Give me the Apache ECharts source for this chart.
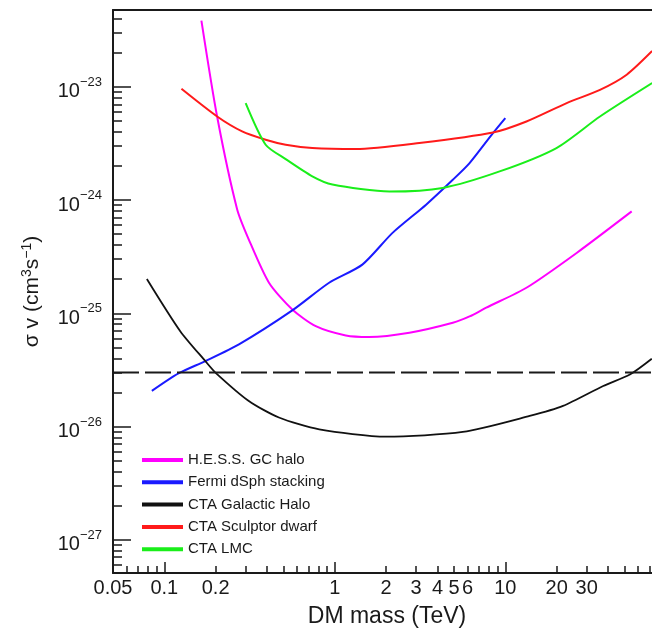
<!DOCTYPE html>
<html>
<head>
<meta charset="utf-8">
<script src="https://cdn.jsdelivr.net/npm/echarts@6/dist/echarts.min.js"></script>
<style>
  html, body { margin: 0; padding: 0; background: #fff; }
  #main { width: 652px; height: 633px; }
</style>
</head>
<body>
<div id="main"></div>
<script>
// values (mass in TeV, sigma v in cm^3 s^-1)
var hessMass = [0.165, 0.204, 0.267, 0.313, 0.411, 0.563, 0.773, 1.16, 1.59, 2.74, 4.92, 6.17, 7.73, 13.3, 26.2, 55.1];
var hessSigma = [3.85e-23, 5.47e-24, 8.35e-25, 4.48e-25, 1.86e-25, 1.08e-25, 7.69e-26, 6.37e-26, 6.18e-26, 6.73e-26, 8.24e-26, 9.37e-26, 1.12e-25, 1.68e-25, 3.41e-25, 7.94e-25];

var fermiMass = [0.0845, 0.121, 0.174, 0.274, 0.563, 0.926, 1.45, 2.18, 3.43, 4.92, 6.17, 8.46, 10.0];
var fermiSigma = [2.06e-26, 2.94e-26, 3.78e-26, 5.31e-26, 1.06e-25, 1.86e-25, 2.69e-25, 5.13e-25, 9.1e-25, 1.51e-24, 2.12e-24, 3.9e-24, 5.3e-24];

var haloMass = [0.079, 0.124, 0.174, 0.2, 0.313, 0.47, 0.81, 2.0, 5.63, 13.9, 21.8, 37.5, 53.8, 72.3];
var haloSigma = [2.01e-25, 6.95e-26, 3.78e-26, 2.98e-26, 1.68e-26, 1.20e-26, 9.44e-27, 8.14e-27, 8.95e-27, 1.24e-26, 1.52e-26, 2.28e-26, 2.88e-26, 3.97e-26];

var sculptorMass = [0.126, 0.204, 0.286, 0.393, 0.515, 0.738, 1.33, 3.13, 8.46, 13.3, 22.9, 35.9, 51.5, 72.6];
var sculptorSigma = [9.6e-24, 5.47e-24, 4.04e-24, 3.41e-24, 3.08e-24, 2.88e-24, 2.82e-24, 3.19e-24, 3.95e-24, 4.94e-24, 7.18e-24, 9.4e-24, 1.28e-23, 2.07e-23];

var lmcMass = [0.3, 0.393, 0.515, 0.738, 0.968, 2.09, 4.29, 9.26, 19.95, 35.9, 72.6];
var lmcSigma = [7.18e-24, 3.08e-24, 2.30e-24, 1.62e-24, 1.37e-24, 1.19e-24, 1.28e-24, 1.79e-24, 2.88e-24, 5.47e-24, 1.08e-23];

var refMass = [0.05, 100];
var refSigma = [3e-26, 3e-26];

// axes (the x axis is cut off at the right edge of the picture)
var xMin = 0.05, xMax = 72.5;
var yMin = 5.08e-28, yMax = 4.77e-23;
var xLabels = [0.05, 0.1, 0.2, 1, 2, 3, 4, 5, 6, 10, 20, 30];
var xMajor = [0.1, 1, 10];
var xMinor = [0.06, 0.07, 0.08, 0.09, 0.2, 0.3, 0.4, 0.5, 0.6, 0.7, 0.8, 0.9,
              2, 3, 4, 5, 6, 7, 8, 9, 20, 30, 40, 50, 60, 70];
var yDecades = [-27, -26, -25, -24, -23];
var yMinorMult = [2, 3, 4, 5, 6, 7, 8, 9];

var font = 'Liberation Sans, Arial, sans-serif';
var ink = '#1a1a1a';

function lg(v) { return Math.log10(v); }
function zip(a, b) { return a.map(function (v, i) { return [v, b[i]]; }); }

var yMinorLog = [];
[-28, -27, -26, -25, -24, -23].forEach(function (d) {
  yMinorMult.forEach(function (m) {
    var v = d + lg(m);
    if (v > lg(yMin) && v < lg(yMax)) yMinorLog.push(v);
  });
});

var chart = echarts.init(document.getElementById('main'));

var tickAxisX = function (vals, len, labels) {
  return {
    type: 'value', position: 'bottom', gridIndex: 0,
    min: lg(xMin), max: lg(xMax),
    axisLine: { show: false, onZero: false },
    splitLine: { show: false },
    axisTick: { show: true, inside: true, length: len, customValues: vals.map(lg),
                lineStyle: { color: ink, width: 1.5 } },
    axisLabel: labels ? {
      show: true, customValues: labels.map(lg), margin: 5,
      fontFamily: font, fontSize: 20, color: ink,
      formatter: function (v) {
        var t = labels.filter(function (l) { return Math.abs(lg(l) - v) < 1e-6; })[0];
        return String(t);
      }
    } : { show: false }
  };
};

var tickAxisY = function (vals, len, withLabels) {
  return {
    type: 'value', position: 'left', gridIndex: 0,
    min: lg(yMin), max: lg(yMax),
    axisLine: { show: false, onZero: false },
    splitLine: { show: false },
    axisTick: { show: true, inside: true, length: len, customValues: vals,
                lineStyle: { color: ink, width: 1.5 } },
    axisLabel: withLabels ? {
      show: true, customValues: yDecades, margin: 11,
      padding: [4, 0, 0, 0],
      formatter: function (v) { return '{b|10}{s|\u2212' + Math.round(-v) + '}'; },
      rich: {
        b: { fontFamily: font, fontSize: 20, lineHeight: 26, verticalAlign: 'bottom', color: ink },
        s: { fontFamily: font, fontSize: 13, lineHeight: 13, verticalAlign: 'top', color: ink }
      }
    } : { show: false }
  };
};

var lineSeries = function (name, mass, sigma, color, width) {
  return {
    name: name, type: 'line', xAxisIndex: 0, yAxisIndex: 0,
    data: zip(mass, sigma), symbol: 'none', smooth: 0.25,
    lineStyle: { color: color, width: width }, itemStyle: { color: color }
  };
};

var option = {
  animation: false,
  grid: { left: 113, right: 0, top: 10, bottom: 59 },
  legend: {
    orient: 'vertical', left: 142, top: 449, padding: 0, itemGap: 0.3,
    itemWidth: 41, itemHeight: 4, icon: 'rect',
    textStyle: { fontFamily: font, fontSize: 15, color: ink, lineHeight: 22 },
    data: ['H.E.S.S. GC halo', 'Fermi dSph stacking', 'CTA Galactic Halo', 'CTA Sculptor dwarf', 'CTA LMC']
  },
  xAxis: [
    {
      type: 'log', logBase: 10, min: xMin, max: xMax, position: 'bottom',
      axisLine: { show: true, onZero: false, lineStyle: { color: ink, width: 2 } },
      axisTick: { show: false }, axisLabel: { show: false },
      splitLine: { show: false },
      name: 'DM mass (TeV)', nameLocation: 'middle', nameGap: 32,
      nameTextStyle: { fontFamily: font, fontSize: 23, color: ink, padding: [0, 0, 0, 9] }
    },
    tickAxisX(xMajor, 11, xLabels),
    tickAxisX(xMinor, 7, null),
    {
      type: 'value', position: 'top', min: 0, max: 1,
      axisLine: { show: true, onZero: false, lineStyle: { color: ink, width: 2 } },
      axisTick: { show: false }, axisLabel: { show: false }, splitLine: { show: false }
    }
  ],
  yAxis: [
    {
      type: 'log', logBase: 10, min: yMin, max: yMax, position: 'left',
      axisLine: { show: true, onZero: false, lineStyle: { color: ink, width: 2 } },
      axisTick: { show: false }, axisLabel: { show: false },
      splitLine: { show: false },
      name: '{b|\u03c3 v (cm}{s|3}{b|s}{s|\u22121}{b|)}', nameLocation: 'middle', nameGap: 70, nameRotate: 90,
      nameTextStyle: {
        rich: {
          b: { fontFamily: font, fontSize: 21, lineHeight: 23, verticalAlign: 'bottom', color: ink },
          s: { fontFamily: font, fontSize: 14, lineHeight: 14, verticalAlign: 'top', color: ink }
        }
      }
    },
    tickAxisY(yDecades, 18, true),
    tickAxisY(yMinorLog, 9, false)
  ],
  series: [
    lineSeries('H.E.S.S. GC halo', hessMass, hessSigma, '#ff00ff', 2),
    lineSeries('Fermi dSph stacking', fermiMass, fermiSigma, '#1a1aff', 2),
    lineSeries('CTA Galactic Halo', haloMass, haloSigma, '#111111', 1.8),
    lineSeries('CTA Sculptor dwarf', sculptorMass, sculptorSigma, '#ff1a1a', 2),
    lineSeries('CTA LMC', lmcMass, lmcSigma, '#1aee1a', 2),
    {
      name: 'ref', type: 'line', xAxisIndex: 0, yAxisIndex: 0,
      data: zip(refMass, refSigma), symbol: 'none',
      lineStyle: { color: ink, width: 2, type: [26, 6] }
    }
  ]
};

chart.setOption(option);
</script>
</body>
</html>
